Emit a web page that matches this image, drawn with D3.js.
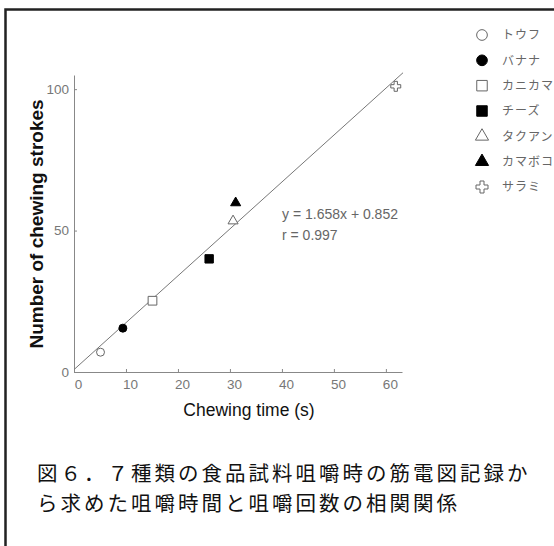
<!DOCTYPE html>
<html lang="ja">
<head>
  <meta charset="UTF-8">
  <title>咀嚼時間と咀嚼回数の相関関係</title>
  <script src="https://d3js.org/d3.v7.min.js"></script>
  <style>
    body { margin: 0; background: #fff; }
    svg { display: block; }
  </style>
</head>
<body>
  <svg id="chart" width="554" height="546"></svg>

  <script>
    // food samples (legend order)
    const foods = ['トウフ', 'バナナ', 'カニカマ', 'チーズ', 'タクアン', 'カマボコ', 'サラミ'];
    // chewing time (s)
    const chewTime = [5.1, 9.4, 15.1, 26.0, 30.6, 31.1, 61.9];
    // number of chewing strokes
    const strokes = [7.0, 15.5, 25.2, 40.0, 53.4, 59.8, 101.0];

    const xTicks = [0, 10, 20, 30, 40, 50, 60];
    const yTicks = [0, 50, 100];

    // regression
    const slope = 1.658;
    const intercept = 0.852;
    const rValue = 0.997;

    const caption = [
      '図６．７種類の食品試料咀嚼時の筋電図記録か',
      'ら求めた咀嚼時間と咀嚼回数の相関関係'
    ];

    // marker look per food
    const markerShape = [d3.symbolCircle, d3.symbolCircle, d3.symbolSquare, d3.symbolSquare,
                         d3.symbolTriangle, d3.symbolTriangle, d3.symbolCross];
    const markerFilled = [false, true, false, true, false, true, false];
    const plotSize = [50, 50, 76, 70, 44, 44, 55];
    const legendSize = [90, 90, 110, 110, 75, 75, 80];

    const sans = '"Liberation Sans", Arial, sans-serif';

    const svg = d3.select('#chart');

    // frame (left + top border)
    svg.append('path')
      .attr('d', 'M5.5,546 V9.5 H554')
      .attr('fill', 'none')
      .attr('stroke', '#222')
      .attr('stroke-width', 2.5);

    const x = d3.scaleLinear().domain([0, 63.1]).range([74, 402]);
    const y = d3.scaleLinear().domain([0, 105]).range([372, 75]);

    // axes
    const gx = svg.append('g')
      .attr('transform', `translate(0,${y(0)})`)
      .call(d3.axisBottom(x).tickValues(xTicks).tickSizeInner(-3).tickSizeOuter(0).tickPadding(7));
    const gy = svg.append('g')
      .attr('transform', `translate(${x(0)},0)`)
      .call(d3.axisLeft(y).tickValues(yTicks).tickSizeInner(-3).tickSizeOuter(0).tickPadding(5));

    [gx, gy].forEach(g => {
      g.select('.domain').attr('stroke', '#888');
      g.selectAll('.tick line').attr('stroke', '#888');
      g.selectAll('.tick text')
        .attr('fill', '#777')
        .style('font-family', sans)
        .style('font-size', '13.5px');
    });
    gx.selectAll('.tick text').attr('dx', 4);

    // axis titles
    svg.append('text')
      .attr('x', 249)
      .attr('y', 416)
      .attr('text-anchor', 'middle')
      .attr('fill', '#111')
      .style('font-family', sans)
      .style('font-size', '17.5px')
      .text('Chewing time (s)');

    svg.append('text')
      .attr('transform', 'translate(43,224) rotate(-90)')
      .attr('text-anchor', 'middle')
      .attr('fill', '#111')
      .style('font-family', sans)
      .style('font-weight', 'bold')
      .style('font-size', '19px')
      .text('Number of chewing strokes');

    // regression line
    svg.append('line')
      .attr('x1', x(0))
      .attr('y1', y(intercept))
      .attr('x2', x(63.3))
      .attr('y2', y(slope * 63.3 + intercept))
      .attr('stroke', '#777')
      .attr('stroke-width', 1);

    // equation
    const eq = svg.append('text')
      .attr('fill', '#666')
      .style('font-family', sans)
      .style('font-size', '14px');
    eq.append('tspan').attr('x', 282).attr('y', 219)
      .text(`y = ${slope}x + ${intercept}`);
    eq.append('tspan').attr('x', 282).attr('y', 240)
      .text(`r = ${rValue}`);

    const symbolPath = (i, sizes) => d3.symbol().type(markerShape[i]).size(sizes[i])();

    // points
    svg.append('g').selectAll('path')
      .data(foods)
      .join('path')
      .attr('transform', (d, i) => `translate(${x(chewTime[i])},${y(strokes[i])})`)
      .attr('d', (d, i) => symbolPath(i, plotSize))
      .attr('fill', (d, i) => markerFilled[i] ? '#000' : '#fff')
      .attr('stroke', (d, i) => markerFilled[i] ? '#000' : '#666')
      .attr('stroke-width', 1);

    // legend
    const ly = d3.scalePoint().domain(foods).range([35, 187]);
    const legend = svg.append('g').selectAll('g')
      .data(foods)
      .join('g')
      .attr('transform', d => `translate(482,${ly(d)})`);

    legend.append('path')
      .attr('d', (d, i) => symbolPath(i, legendSize))
      .attr('fill', (d, i) => markerFilled[i] ? '#000' : '#fff')
      .attr('stroke', (d, i) => markerFilled[i] ? '#000' : '#666')
      .attr('stroke-width', 1);

    legend.append('text')
      .attr('x', 20)
      .attr('dy', '0.35em')
      .attr('fill', '#666')
      .style('font-family', '"Noto Sans CJK JP", sans-serif')
      .style('font-size', '12px')
      .style('letter-spacing', '1px')
      .text(d => d);

    // caption
    svg.append('g').selectAll('text')
      .data(caption)
      .join('text')
      .attr('x', 37)
      .attr('y', (d, i) => 481 + i * 30)
      .attr('fill', '#111')
      .style('font-family', '"Noto Sans CJK JP", sans-serif')
      .style('font-size', '20.5px')
      .style('letter-spacing', '3px')
      .text(d => d);
  </script>
</body>
</html>
